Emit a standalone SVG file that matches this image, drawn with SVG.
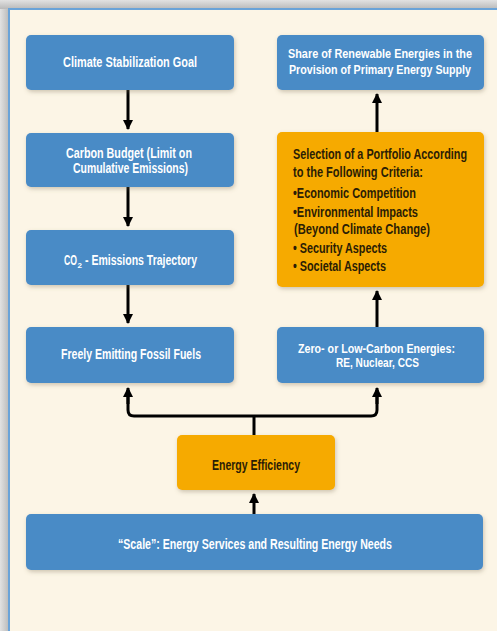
<svg xmlns="http://www.w3.org/2000/svg" width="497" height="631" viewBox="0 0 497 631">
<style>
.t{font-family:"Liberation Sans Narrow","Liberation Sans",Arial,sans-serif;font-weight:bold;font-size:14px}
.s{font-size:13px}
.w{fill:#ffffff}
.d{fill:#2b1d05}
.blue{fill:#4a8bc6}
.orange{fill:#f6aa00}
.c{fill:none;stroke:#000000;stroke-width:3}
</style>
<defs>
<marker id="ah" viewBox="0 0 10 10" refX="9" refY="5" markerWidth="3.4" markerHeight="3.4" orient="auto" markerUnits="strokeWidth">
<path d="M0,0 L10,5 L0,10 Z" fill="#000"/>
</marker>
<filter id="sh" x="-10%" y="-20%" width="120%" height="150%">
<feDropShadow dx="1" dy="2" stdDeviation="2" flood-color="#7a6a50" flood-opacity="0.35"/>
</filter>
<linearGradient id="gl" x1="0" y1="0" x2="1" y2="0">
<stop offset="0" stop-color="#e2e2e2"/>
<stop offset="1" stop-color="#b9b9b9"/>
</linearGradient>
<linearGradient id="gt" x1="0" y1="0" x2="0" y2="1">
<stop offset="0" stop-color="#e2e2e2"/>
<stop offset="1" stop-color="#b9b9b9"/>
</linearGradient>
</defs>
<rect x="0" y="0" width="497" height="631" fill="#fcf5e6"/>
<rect x="0" y="0" width="9" height="631" fill="url(#gl)"/>
<rect x="0" y="0" width="497" height="9" fill="url(#gt)"/>
<rect x="9" y="9" width="500" height="640" fill="#fcf5e6" stroke="#6aa3d8" stroke-width="2"/>

<g id="connectors">
<path class="c" d="M128,90 V129" marker-end="url(#ah)"/>
<path class="c" d="M128,187 V226" marker-end="url(#ah)"/>
<path class="c" d="M128,285 V323" marker-end="url(#ah)"/>
<path class="c" d="M377,132 V94" marker-end="url(#ah)"/>
<path class="c" d="M377,327 V291" marker-end="url(#ah)"/>
<path class="c" d="M254,435 V416"/>
<path class="c" d="M128,390 V410 Q128,416 134,416 H371 Q377,416 377,410 V390" />
<path class="c" d="M128,404 V388" marker-end="url(#ah)"/>
<path class="c" d="M377,404 V388" marker-end="url(#ah)"/>
<path class="c" d="M254,514 V494" marker-end="url(#ah)"/>
</g>

<g id="n1">
<rect class="blue" x="26" y="35" width="208" height="55" rx="5" filter="url(#sh)"/>
<text class="t w" x="130" y="67" text-anchor="middle" textLength="134" lengthAdjust="spacingAndGlyphs">Climate Stabilization Goal</text>
</g>
<g id="n2">
<rect class="blue" x="26" y="133" width="208" height="54" rx="5" filter="url(#sh)"/>
<text class="t w" x="129" y="158" text-anchor="middle" textLength="126" lengthAdjust="spacingAndGlyphs">Carbon Budget (Limit on</text>
<text class="t w" x="130.5" y="172.5" text-anchor="middle" textLength="115" lengthAdjust="spacingAndGlyphs">Cumulative Emissions)</text>
</g>
<g id="n3">
<rect class="blue" x="26" y="230" width="208" height="55" rx="5" filter="url(#sh)"/>
<text class="t w" x="77" y="265" text-anchor="end" textLength="13" lengthAdjust="spacingAndGlyphs">CO</text>
<text class="t w" x="77.5" y="268" style="font-size:8px">2</text>
<text class="t w" x="85" y="265" textLength="112" lengthAdjust="spacingAndGlyphs">- Emissions Trajectory</text>
</g>
<g id="n4">
<rect class="blue" x="26" y="327" width="208" height="56" rx="5" filter="url(#sh)"/>
<text class="t w" x="131" y="359" text-anchor="middle" textLength="140" lengthAdjust="spacingAndGlyphs">Freely Emitting Fossil Fuels</text>
</g>
<g id="n5">
<rect class="blue" x="277" y="327" width="207" height="56" rx="5" filter="url(#sh)"/>
<text class="t s w" x="376.5" y="352.5" text-anchor="middle" textLength="157" lengthAdjust="spacingAndGlyphs">Zero- or Low-Carbon Energies:</text>
<text class="t s w" x="377.5" y="367" text-anchor="middle" textLength="83" lengthAdjust="spacingAndGlyphs">RE, Nuclear, CCS</text>
</g>
<g id="n6">
<rect class="blue" x="277" y="35" width="207" height="55" rx="5" filter="url(#sh)"/>
<text class="t s w" x="380" y="58" text-anchor="middle" textLength="184" lengthAdjust="spacingAndGlyphs">Share of Renewable Energies in the</text>
<text class="t s w" x="380" y="74" text-anchor="middle" textLength="182" lengthAdjust="spacingAndGlyphs">Provision of Primary Energy Supply</text>
</g>
<g id="n7">
<rect class="orange" x="277" y="132" width="207" height="155" rx="5" filter="url(#sh)"/>
<text class="t d" x="293" y="159" textLength="174" lengthAdjust="spacingAndGlyphs">Selection of a Portfolio According</text>
<text class="t d" x="293" y="177" textLength="130" lengthAdjust="spacingAndGlyphs">to the Following Criteria:</text>
<text class="t d" x="293" y="198" textLength="123" lengthAdjust="spacingAndGlyphs">•Economic Competition</text>
<text class="t d" x="293" y="217" textLength="125" lengthAdjust="spacingAndGlyphs">•Environmental Impacts</text>
<text class="t d" x="294" y="234" textLength="136" lengthAdjust="spacingAndGlyphs">(Beyond Climate Change)</text>
<text class="t d" x="293" y="253" textLength="94" lengthAdjust="spacingAndGlyphs">• Security Aspects</text>
<text class="t d" x="293" y="271" textLength="93" lengthAdjust="spacingAndGlyphs">• Societal Aspects</text>
</g>
<g id="n8">
<rect class="orange" x="177" y="435" width="158" height="55" rx="5" filter="url(#sh)"/>
<text class="t d" x="256" y="470" text-anchor="middle" textLength="88" lengthAdjust="spacingAndGlyphs">Energy Efficiency</text>
</g>
<g id="n9">
<rect class="blue" x="26" y="514" width="457" height="56" rx="5" filter="url(#sh)"/>
<text class="t w" x="255" y="549" text-anchor="middle" textLength="274" lengthAdjust="spacingAndGlyphs">“Scale”: Energy Services and Resulting Energy Needs</text>
</g>
</svg>
